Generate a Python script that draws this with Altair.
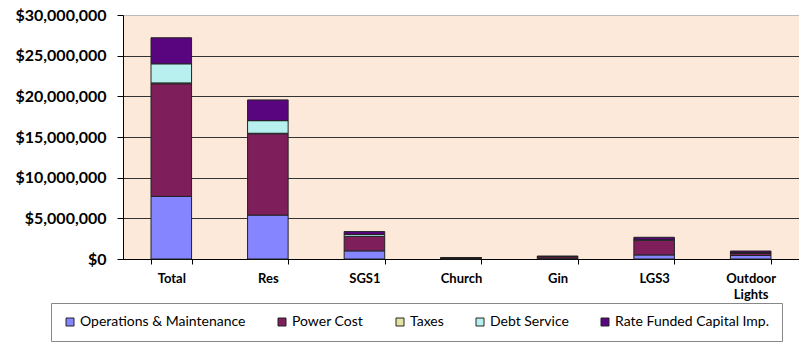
import altair as alt
import pandas as pd

categories = ["Total", "Res", "SGS1", "Church", "Gin", "LGS3", "Outdoor Lights"]
series = ["Operations & Maintenance", "Power Cost", "Taxes", "Debt Service", "Rate Funded Capital Imp."]
colors = ["#8585FF", "#7E1F5C", "#E4E4A2", "#B8F0F0", "#5A0580"]

om = [7700000, 5400000, 1000000, 50000, 100000, 500000, 430000]
power = [13850000, 10000000, 1770000, 100000, 200000, 1800000, 300000]
taxes = [100000, 60000, 20000, 0, 0, 20000, 0]
debt = [2350000, 1550000, 230000, 0, 10000, 50000, 50000]
rfc = [3200000, 2550000, 350000, 30000, 50000, 300000, 200000]

rows = []
for si, (name, vals) in enumerate(zip(series, [om, power, taxes, debt, rfc])):
    for c, v in zip(categories, vals):
        rows.append({"cat": c, "series": name, "value": v, "ord": si})
df = pd.DataFrame(rows)

FONT = "Lato"

chart = alt.Chart(df).mark_bar(stroke="#222222", strokeWidth=1).encode(
    x=alt.X("cat:N", sort=categories, title=None,
            scale=alt.Scale(paddingInner=0.58, paddingOuter=0.29),
            axis=alt.Axis(labelAngle=0, labelFont=FONT, labelFontWeight="bold",
                          labelFontSize=13, labelColor="#000", tickBand="extent",
                          tickColor="#000", tickSize=5, domainColor="#000",
                          labelPadding=8, labelLineHeight=16,
                          labelExpr="datum.label == 'Outdoor Lights' ? ['Outdoor', 'Lights'] : datum.label")),
    y=alt.Y("value:Q", stack="zero", title=None,
            scale=alt.Scale(domain=[0, 30000000], nice=False),
            axis=alt.Axis(values=[0, 5000000, 10000000, 15000000, 20000000, 25000000, 30000000],
                          format="$,.0f", labelFont=FONT, labelFontWeight="bold",
                          labelFontSize=16, labelColor="#000", tickColor="#000",
                          tickSize=6, labelPadding=11, domainColor="#000",
                          gridColor={"condition": {"test": "datum.value == 30000000", "value": "#BBBBBB"}, "value": "#333333"},
                          gridWidth=1)),
    color=alt.Color("series:N", sort=series,
                    scale=alt.Scale(domain=series, range=colors),
                    legend=alt.Legend(title=None, orient="none", legendX=-72, legendY=288,
                                      direction="horizontal", columns=5, symbolType="square",
                                      symbolSize=64, symbolStrokeColor="#222222",
                                      symbolStrokeWidth=1, labelFont=FONT, labelFontSize=14,
                                      labelColor="#000", labelOffset=3, columnPadding=29,
                                      fillColor="white", strokeColor="#888888", padding=12,
                                      labelLimit=300)),
    order=alt.Order("ord:Q", sort="ascending"),
).properties(
    width=676, height=244,
    autosize=alt.AutoSizeParams(type="none"),
    padding={"left": 123, "top": 15, "right": 0, "bottom": 84},
    background="white",
).configure_view(fill="#FDE9D9", stroke="#BBBBBB")

chart.save("out.html", embed_options={"renderer": "svg", "actions": False})
